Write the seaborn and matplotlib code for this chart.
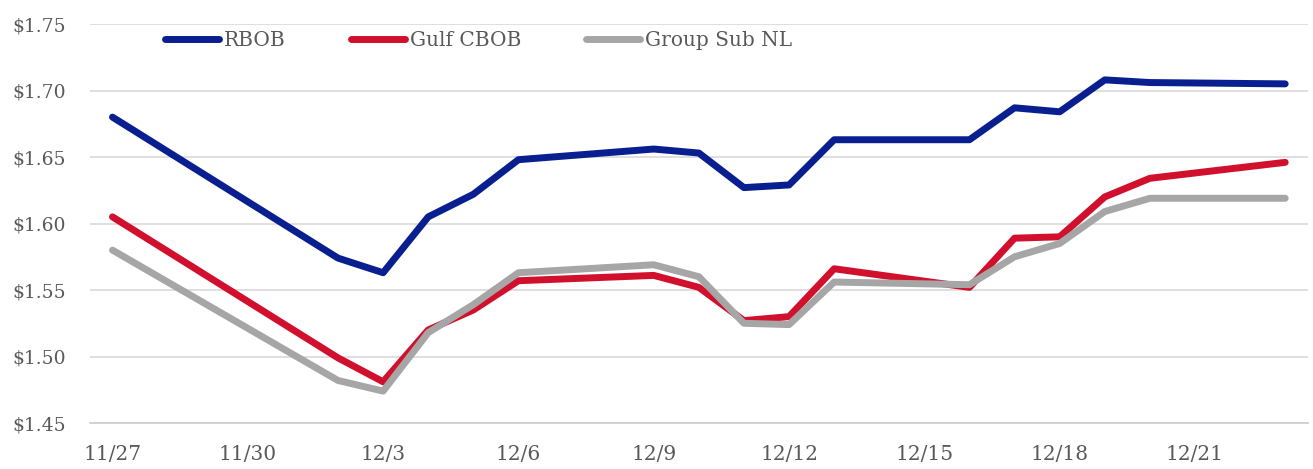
import numpy as np
import pandas as pd
import seaborn as sns
import matplotlib.pyplot as plt
import matplotlib.dates as mdates
from matplotlib.ticker import FixedLocator, FuncFormatter

# trading days (weekends / holiday skipped)
dates = ["2019-11-27", "2019-12-02", "2019-12-03", "2019-12-04", "2019-12-05",
         "2019-12-06", "2019-12-09", "2019-12-10", "2019-12-11", "2019-12-12",
         "2019-12-13", "2019-12-16", "2019-12-17", "2019-12-18", "2019-12-19",
         "2019-12-20", "2019-12-23"]
rbob = [1.680, 1.574, 1.563, 1.605, 1.622, 1.648, 1.656, 1.653, 1.627, 1.629,
        1.663, 1.663, 1.687, 1.684, 1.708, 1.706, 1.705]
gulf_cbob = [1.605, 1.499, 1.481, 1.520, 1.535, 1.557, 1.561, 1.552, 1.527, 1.530,
             1.566, 1.552, 1.589, 1.590, 1.620, 1.634, 1.646]
group_sub = [1.580, 1.482, 1.474, 1.518, 1.539, 1.563, 1.569, 1.560, 1.525, 1.524,
             1.556, 1.554, 1.575, 1.585, 1.609, 1.619, 1.619]
series_names = ["RBOB", "Gulf CBOB", "Group Sub NL"]
y_ticks = [1.45, 1.50, 1.55, 1.60, 1.65, 1.70, 1.75]

colors = {"RBOB": "#0a1f8f", "Gulf CBOB": "#d0102c", "Group Sub NL": "#a6a6a6"}

df = pd.DataFrame({"date": pd.to_datetime(dates), "RBOB": rbob,
                   "Gulf CBOB": gulf_cbob, "Group Sub NL": group_sub})
long_df = df.melt(id_vars="date", var_name="series", value_name="price")

sns.set_style("white")
plt.rcParams['font.family'] = ['DejaVu Serif']

fig = plt.figure(figsize=(13.13, 4.69), dpi=100)
ax = fig.add_axes([0.0685, 0.098, 0.9275, 0.8508])

sns.lineplot(data=long_df, x="date", y="price", hue="series", hue_order=series_names,
             palette=colors, linewidth=5, ax=ax, solid_capstyle="round")

# x axis: day slots, ticks between every third slot, labels centred in slot
start = pd.Timestamp("2019-11-27")
half = pd.Timedelta(hours=12)
ax.set_xlim(start - half, pd.Timestamp("2019-12-23") + half)
major = [mdates.date2num(start - half + pd.Timedelta(days=3 * k)) for k in range(10)]
minor = [mdates.date2num(start + pd.Timedelta(days=3 * k)) for k in range(9)]
ax.xaxis.set_major_locator(FixedLocator(major))
ax.xaxis.set_major_formatter(FuncFormatter(lambda v, p: ""))
ax.xaxis.set_minor_locator(FixedLocator(minor))
ax.xaxis.set_minor_formatter(FuncFormatter(
    lambda v, p: f"{mdates.num2date(v).month}/{mdates.num2date(v).day}"))
ax.tick_params(axis="x", which="major", length=7, width=1.2, color="#cccccc", direction="out")
ax.tick_params(axis="x", which="minor", length=0, pad=16, labelsize=14.5, labelcolor="#595959")

ax.set_ylim(1.45, 1.75)
ax.set_yticks(y_ticks)
ax.set_yticklabels([f"${v:.2f}" for v in y_ticks])
ax.tick_params(axis="y", length=0, pad=17, labelsize=13.5, labelcolor="#595959")
ax.yaxis.grid(True, color="#d9d9d9", linewidth=1.2)
ax.set_axisbelow(True)

for s in ["left", "right", "top"]:
    ax.spines[s].set_visible(False)
ax.spines["bottom"].set_color("#cccccc")
ax.spines["bottom"].set_linewidth(1.2)
ax.set_xlabel("")
ax.set_ylabel("")

leg = ax.legend(loc="center left", bbox_to_anchor=(0.0616, 0.958), ncol=3,
                frameon=False, fontsize=14.5, handlelength=2.7, handletextpad=0.25,
                columnspacing=3.2, borderpad=0, borderaxespad=0)
for line in leg.get_lines():
    line.set_linewidth(5)
    line.set_solid_capstyle("round")
for t in leg.get_texts():
    t.set_color("#595959")

fig.savefig("out.png", dpi=100)
